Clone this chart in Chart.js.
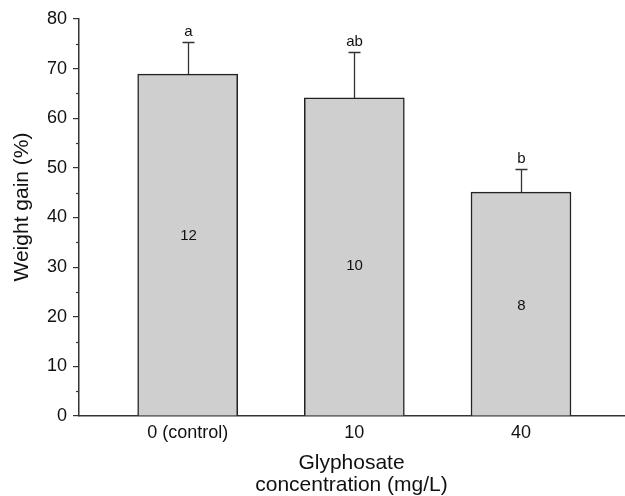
<!DOCTYPE html>
<html>
<head>
<meta charset="utf-8">
<script src="https://cdn.jsdelivr.net/npm/chart.js@4"></script>
<style>
  html, body { margin: 0; padding: 0; background: #fff; }
  #wrap { position: relative; width: 625px; height: 496px; }
</style>
</head>
<body>
<div id="wrap"><canvas id="chart"></canvas></div>
<script>
  // ── Data ──
  const categories = ['0 (control)', '10', '40'];
  const meanGain   = [68.9, 64.1, 45.1];
  const errUpper   = [6.4, 9.2, 4.7];
  const sigLetters = ['a', 'ab', 'b'];
  const sampleN    = ['12', '10', '8'];
  const nLabelY    = [36.3, 30.2, 22.2];
  const yTicks     = [0, 10, 20, 30, 40, 50, 60, 70, 80];

  const FONT = "'Liberation Sans', Arial, Helvetica, sans-serif";
  const INK = '#222';

  // minor ticks, error bars and text labels
  const extras = {
    id: 'extras',
    afterDatasetsDraw(chart) {
      const ctx = chart.ctx;
      const xs = chart.scales.x, ys = chart.scales.y;
      ctx.save();

      // minor y ticks at the 5s
      ctx.strokeStyle = '#333';
      ctx.lineWidth = 1.2;
      for (let v = 5; v < 80; v += 10) {
        const py = Math.round(ys.getPixelForValue(v)) + 0.5;
        ctx.beginPath();
        ctx.moveTo(xs.left - 3, py);
        ctx.lineTo(xs.left, py);
        ctx.stroke();
      }

      meanGain.forEach((m, i) => {
        const px = Math.round(xs.getPixelForValue(i)) + 0.5;
        const yTop = ys.getPixelForValue(m);
        const yCap = Math.round(ys.getPixelForValue(m + errUpper[i])) + 0.5;
        ctx.strokeStyle = '#333';
        ctx.lineWidth = 1.3;
        ctx.beginPath();
        ctx.moveTo(px, yTop);
        ctx.lineTo(px, yCap);
        ctx.moveTo(px - 6, yCap);
        ctx.lineTo(px + 6, yCap);
        ctx.stroke();

        ctx.fillStyle = '#111';
        ctx.font = `15px ${FONT}`;
        ctx.textAlign = 'center';
        ctx.textBaseline = 'alphabetic';
        ctx.fillText(sigLetters[i], px, yCap - 7);

        ctx.textBaseline = 'middle';
        ctx.fillText(sampleN[i], px, ys.getPixelForValue(nLabelY[i]));
      });

      // y axis title
      ctx.translate(22, 207);
      ctx.rotate(-Math.PI / 2);
      ctx.font = `21px ${FONT}`;
      ctx.fillStyle = '#111';
      ctx.textAlign = 'center';
      ctx.textBaseline = 'middle';
      ctx.fillText('Weight gain (%)', 0, 0);
      ctx.restore();
    }
  };

  new Chart(document.getElementById('chart'), {
    type: 'bar',
    data: {
      datasets: [{
        data: meanGain.map((v, i) => ({ x: i, y: v })),
        backgroundColor: '#cfcfcf',
        borderColor: INK,
        borderWidth: 1.5,
        borderSkipped: 'bottom',
        barThickness: 100,
      }]
    },
    options: {
      responsive: true,
      maintainAspectRatio: false,
      animation: false,
      layout: { padding: { top: 19, left: 0, right: 1, bottom: 0 } },
      plugins: {
        legend: { display: false },
        tooltip: { enabled: false }
      },
      scales: {
        x: {
          type: 'linear',
          min: -0.652,
          max: 2.618,
          offset: false,
          afterBuildTicks: s => { s.ticks = categories.map((c, i) => ({ value: i })); },
          afterFit: s => { s.height = 80; },
          grid: { display: true, drawOnChartArea: false, drawTicks: false },
          border: { display: true, color: '#333', width: 1.5 },
          ticks: {
            callback: v => categories[v],
            font: { size: 18, family: FONT },
            color: '#111',
            padding: 6,
            maxRotation: 0
          },
          title: {
            display: true,
            text: ['Glyphosate', 'concentration (mg/L)'],
            font: { size: 21, family: FONT, lineHeight: 1.05 },
            color: '#111',
            padding: { top: 0, bottom: 0 }
          }
        },
        y: {
          min: 0,
          max: 80,
          afterBuildTicks: s => { s.ticks = yTicks.map(v => ({ value: v })); },
          afterFit: s => { s.width = 79; },
          grid: { drawOnChartArea: false, drawTicks: true, tickLength: 6, color: '#333', lineWidth: 1.2 },
          border: { display: true, color: '#333', width: 1.5 },
          ticks: {
            font: { size: 18, family: FONT },
            color: '#111',
            padding: 6
          }
        }
      }
    },
    plugins: [extras]
  });
</script>
</body>
</html>
